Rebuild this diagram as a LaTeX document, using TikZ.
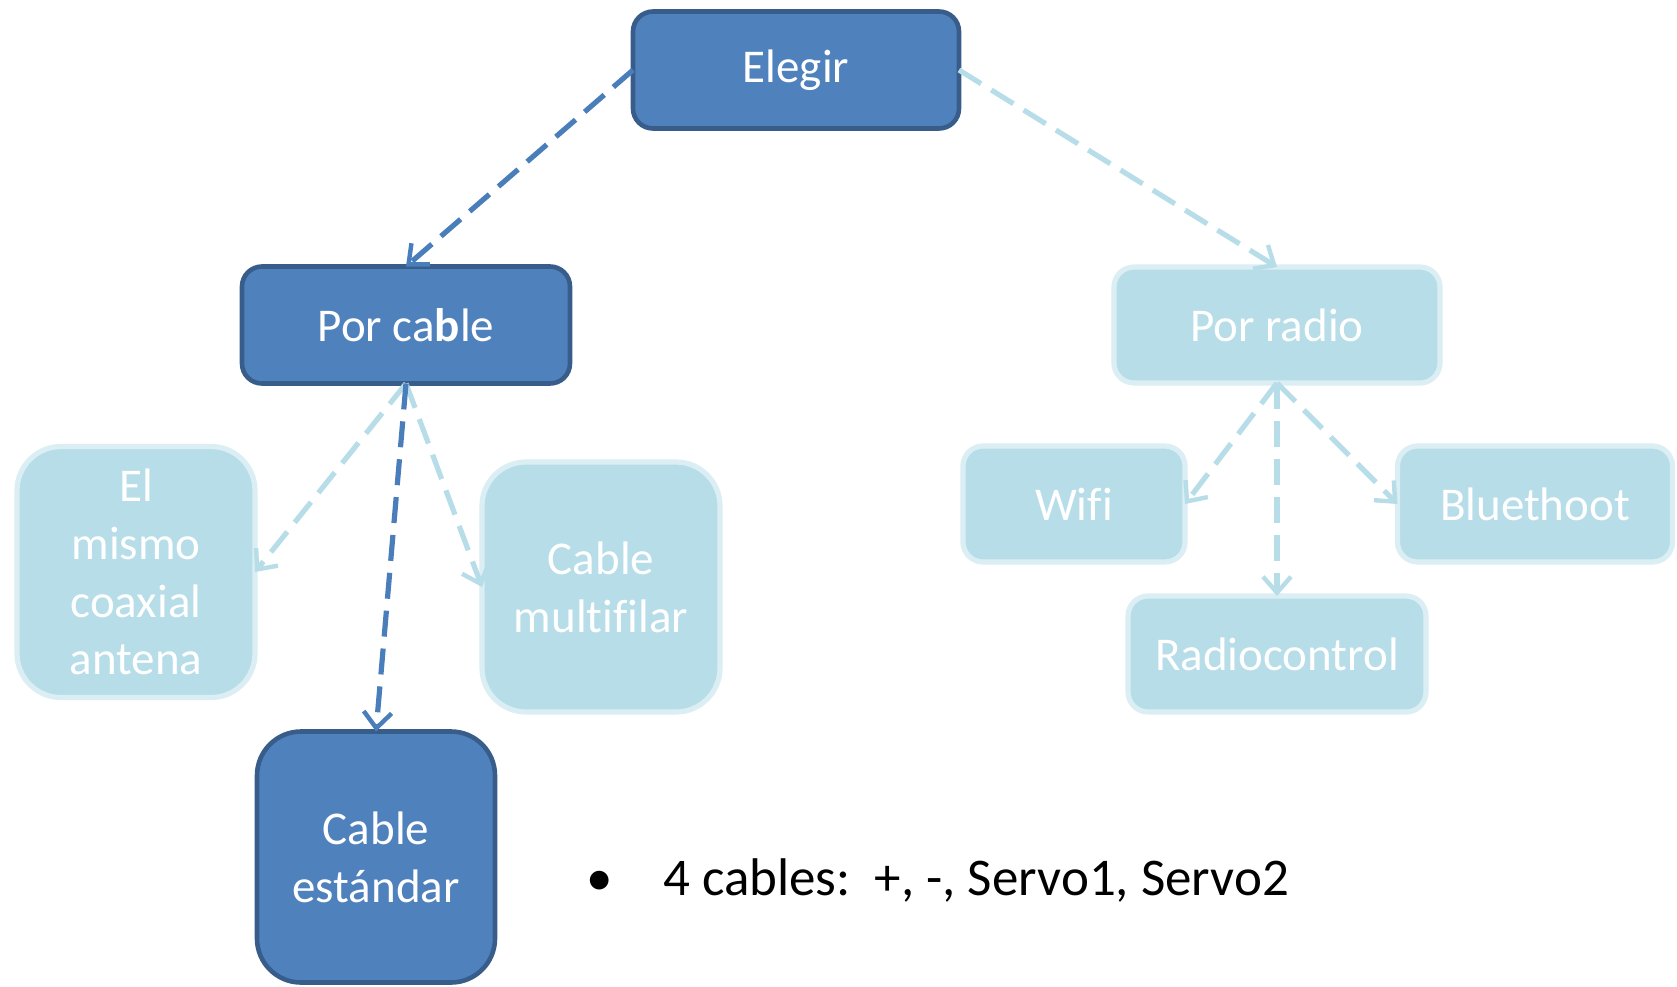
\documentclass[tikz,border=0pt]{standalone}
\usepackage{fontspec}
\setmainfont[Ligatures=NoCommon]{Carlito}
\usetikzlibrary{arrows.meta}

\definecolor{darkfill}{HTML}{4F81BD}
\definecolor{darkline}{HTML}{385D8A}
\definecolor{lightfill}{HTML}{B7DDE8}
\definecolor{lightline}{HTML}{DAEEF3}
\definecolor{darkarrow}{HTML}{4A7EBB}
\definecolor{lightarrow}{HTML}{B7DDE8}

\tikzset{
  x=0.5pt, y=-0.5pt,
  box/.style={rectangle, rounded corners=#1, align=center, text=white,
    inner sep=2pt, outer sep=0pt,
    font=\fontsize{23.5}{28.9}\selectfont},
  darkbox/.style={box=#1, fill=darkfill, draw=darkline, line width=2.3pt},
  lightbox/.style={box=#1, fill=lightfill, draw=lightline, line width=2.6pt},
  link/.style={line width=2.6pt, dash pattern=on 13pt off 6pt,
    -{Straight Barb[length=8pt,width=14pt,line width=2.2pt]}},
  darklink/.style={link, draw=darkarrow},
  lightlink/.style={link, draw=lightarrow},
}

\begin{document}
\begin{tikzpicture}
\useasboundingbox (0,0) rectangle (1677,986);

% top level
\node[darkbox=10pt, minimum width=163pt, minimum height=58.5pt] (elegir) at (796,70) {\raisebox{-2pt}{Elegir}};

% second level
\node[darkbox=10pt, minimum width=164pt, minimum height=58.5pt] (cable) at (406,325) {Por ca\textbf{b}le};
\node[lightbox=10pt, minimum width=163pt, minimum height=58pt] (radio) at (1277,325) {Por radio};

% cable options
\node[lightbox=22pt, minimum width=119pt, minimum height=125.5pt] (mismo) at (136,572) {El\\mismo\\coaxial\\antena};
\node[lightbox=22pt, minimum width=119pt, minimum height=125pt] (multi) at (601,587) {Cable\\multifilar};
\node[darkbox=22pt, minimum width=119pt, minimum height=125.5pt] (estandar) at (376,857) {Cable\\estándar};

% radio options
\node[lightbox=10pt, minimum width=111pt, minimum height=58pt] (wifi) at (1074,504) {Wifi};
\node[lightbox=10pt, minimum width=137.5pt, minimum height=58pt] (blue) at (1535,504) {Bluethoot};
\node[lightbox=10pt, minimum width=149pt, minimum height=58pt] (rc) at (1277,654) {Radiocontrol};

% connectors
\draw[darklink] (elegir.west) -- (cable.north);
\draw[lightlink] (elegir.east) -- (radio.north);
\draw[lightlink] (cable.south) -- (mismo.east);
\draw[lightlink] (cable.south) -- (multi.west);
\draw[darklink] (cable.south) -- (estandar.north);
\draw[lightlink] (radio.south) -- (wifi.east);
\draw[lightlink] (radio.south) -- (blue.west);
\draw[lightlink] (radio.south) -- (rc.north);

% bullet note
\node[inner sep=0pt, anchor=base, font=\fontsize{26.5}{32}\selectfont] (bullet) at (600,895) {•};
\node[inner sep=0pt, anchor=base west, font=\fontsize{26.5}{32}\selectfont] (note) at (663,895) {4 cables:\ \ +, -, Servo1, Servo2};
\end{tikzpicture}
\end{document}
